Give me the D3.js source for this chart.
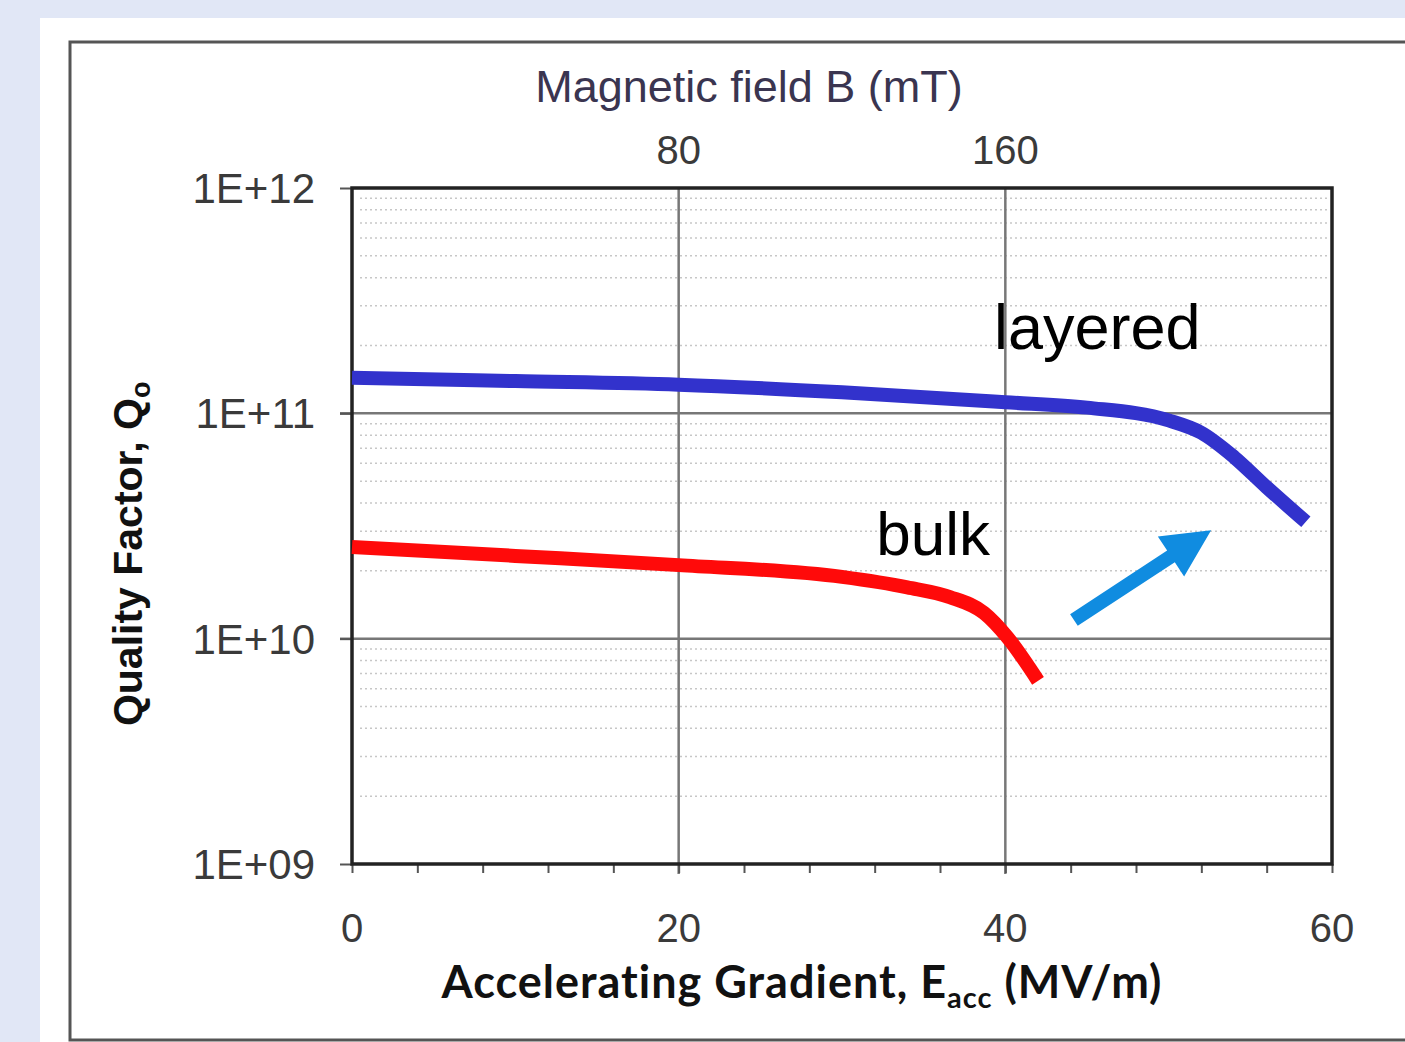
<!DOCTYPE html>
<html>
<head>
<meta charset="utf-8">
<script src="https://cdn.jsdelivr.net/npm/d3@7"></script>
<style>
  html, body { margin: 0; padding: 0; background: #e1e7f6; }
  svg { display: block; }
</style>
</head>
<body>
<div id="chart"></div>
<script>
'use strict'

// ---- data ----
const bulkE = [0, 10, 20, 30, 34, 36.6, 38.7, 40.1, 42]
const bulkQ = [2.55e10, 2.33e10, 2.12e10, 1.88e10, 1.69e10, 1.53e10, 1.30e10, 1.02e10, 6.5e9]

const layeredE = [0, 10, 20, 30, 40, 45, 50, 52, 54, 56, 58.4]
const layeredQ = [1.44e11, 1.39e11, 1.34e11, 1.24e11, 1.12e11, 1.06e11, 9.3e10, 8.2e10, 6.4e10, 4.7e10, 3.3e10]

const xTicks = [0, 20, 40, 60]
const yTicks = [1e9, 1e10, 1e11, 1e12]
const yTickLabels = ['1E+09', '1E+10', '1E+11', '1E+12']
const topTicks = [80, 160]          // magnetic field, mT (B = 4 * Eacc)

// arrow annotation, in data units [E, Q]
const arrowFrom = [44.2, 1.21e10]
const arrowTo = [52.6, 3.03e10]

////////////////////////////////////
//////////// svg setup /////////////
////////////////////////////////////
const svgWidth = 1405
const svgHeight = 1042
const margin = { left: 352, top: 188, right: 73, bottom: 178 }
const width = svgWidth - margin.left - margin.right
const height = svgHeight - margin.top - margin.bottom

const root = d3.select('#chart').append('svg')
    .attr('width', svgWidth)
    .attr('height', svgHeight)

// white panel + outer frame
root.append('rect')
    .attr('x', 40).attr('y', 18)
    .attr('width', svgWidth).attr('height', svgHeight)
    .attr('fill', '#fff')

root.append('rect')
    .attr('x', 70).attr('y', 42)
    .attr('width', svgWidth).attr('height', 998)
    .attr('fill', 'none')
    .attr('stroke', '#555')
    .attr('stroke-width', 3)

const svg = root.append('g')
    .attr('transform', `translate(${margin.left},${margin.top})`)

////////////////////////////////////
//////////// Scales ////////////////
////////////////////////////////////
const x = d3.scaleLinear().domain([0, 60]).range([0, width])
const y = d3.scaleLog().domain([1e9, 1e12]).range([height, 0])
const xTop = d3.scaleLinear().domain([0, 240]).range([0, width])

////////////////////////////////////
//////////// Grid //////////////////
////////////////////////////////////
// minor dotted grid 2..9 per decade
const minor = []
for (let p = 9; p < 12; p++) {
    for (let m = 2; m <= 9; m++) minor.push(m * Math.pow(10, p))
}
svg.append('g')
    .selectAll('line')
    .data(minor)
    .join('line')
    .attr('x1', 8).attr('x2', width - 4)
    .attr('y1', d => y(d)).attr('y2', d => y(d))
    .attr('stroke', '#999')
    .attr('stroke-width', 1.5)
    .attr('stroke-dasharray', '2,3')
    .attr('stroke-opacity', 0.55)

// major grid
svg.append('g')
    .selectAll('line')
    .data([1e10, 1e11])
    .join('line')
    .attr('x1', -12).attr('x2', width)
    .attr('y1', d => y(d)).attr('y2', d => y(d))
    .attr('stroke', '#777')
    .attr('stroke-width', 2.5)

svg.append('g')
    .selectAll('line')
    .data([20, 40])
    .join('line')
    .attr('x1', d => x(d)).attr('x2', d => x(d))
    .attr('y1', 0).attr('y2', height + 10)
    .attr('stroke', '#777')
    .attr('stroke-width', 2.5)

////////////////////////////////////
//////////// Axes //////////////////
////////////////////////////////////
const xAxis = d3.axisBottom(x)
    .tickValues(d3.range(0, 61, 4))
    .tickSize(9)
    .tickFormat('')
svg.append('g')
    .attr('transform', `translate(0,${height})`)
    .call(xAxis)
    .call(g => g.selectAll('line').attr('stroke', '#555').attr('stroke-width', 2))

svg.append('g')
    .selectAll('text')
    .data(xTicks)
    .join('text')
    .attr('x', d => x(d))
    .attr('y', height + 78)
    .attr('text-anchor', 'middle')
    .attr('font-family', 'Liberation Sans, Arial, sans-serif')
    .attr('font-size', 40)
    .attr('fill', '#3a3a3a')
    .text(d => d)

const yAxis = d3.axisLeft(y)
    .tickValues(yTicks)
    .tickSize(12)
    .tickFormat('')
svg.append('g')
    .call(yAxis)
    .call(g => g.selectAll('line').attr('stroke', '#555').attr('stroke-width', 2))

svg.append('g')
    .selectAll('text')
    .data(yTicks)
    .join('text')
    .attr('x', -37)
    .attr('y', d => y(d))
    .attr('dy', '0.36em')
    .attr('text-anchor', 'end')
    .attr('font-family', 'Liberation Sans, Arial, sans-serif')
    .attr('font-size', 42)
    .attr('fill', '#3a3a3a')
    .text((d, i) => yTickLabels[i])

svg.selectAll('.domain').remove()

// top axis labels (magnetic field)
svg.append('g')
    .selectAll('text')
    .data(topTicks)
    .join('text')
    .attr('x', d => xTop(d))
    .attr('y', -24)
    .attr('text-anchor', 'middle')
    .attr('font-family', 'Liberation Sans, Arial, sans-serif')
    .attr('font-size', 40)
    .attr('fill', '#3a3a3a')
    .text(d => d)

svg.append('text')
    .attr('x', 397)
    .attr('y', -86)
    .attr('text-anchor', 'middle')
    .attr('font-family', 'Liberation Sans, Arial, sans-serif')
    .attr('font-size', 45)
    .attr('fill', '#3a3550')
    .text('Magnetic field B (mT)')

// plot frame
svg.append('rect')
    .attr('width', width).attr('height', height)
    .attr('fill', 'none')
    .attr('stroke', '#222')
    .attr('stroke-width', 3.5)

////////////////////////////////////
//////////// Titles ////////////////
////////////////////////////////////
const xt = svg.append('text')
    .attr('x', 450)
    .attr('y', height + 134)
    .attr('text-anchor', 'middle')
    .attr('font-family', 'Lato, sans-serif')
    .attr('font-weight', 'bold')
    .attr('font-size', 45)
    .attr('letter-spacing', 1)
    .style('font-variant-ligatures', 'none')
    .attr('fill', '#111')
xt.append('tspan').text('Accelerating Gradient, E')
xt.append('tspan').text('acc').attr('font-size', 29).attr('dy', 10)
xt.append('tspan').text(' (MV/m)').attr('dy', -10)

const yt = svg.append('text')
    .attr('transform', `translate(-210,${y(2.38e10)}) rotate(-90)`)
    .attr('text-anchor', 'middle')
    .attr('font-family', 'Liberation Sans, Arial, sans-serif')
    .attr('font-weight', 'bold')
    .attr('font-size', 41)
    .attr('fill', '#111')
yt.append('tspan').text('Quality Factor, Q')
yt.append('tspan').text('o').attr('font-size', 27).attr('dy', 8)

////////////////////////////////////
//////////// Lines /////////////////
////////////////////////////////////
const line = d3.line()
    .x(d => x(d[0]))
    .y(d => y(d[1]))
    .curve(d3.curveMonotoneX)

svg.append('path')
    .datum(layeredE.map((e, i) => [e, layeredQ[i]]))
    .attr('d', line)
    .attr('fill', 'none')
    .attr('stroke', '#3232cc')
    .attr('stroke-width', 14)

svg.append('path')
    .datum(bulkE.map((e, i) => [e, bulkQ[i]]))
    .attr('d', line)
    .attr('fill', 'none')
    .attr('stroke', '#ff0a0a')
    .attr('stroke-width', 14)

// labels
svg.append('text')
    .attr('x', x(39.3))
    .attr('y', y(1.92e11))
    .attr('font-family', 'Liberation Sans, Arial, sans-serif')
    .attr('font-size', 63)
    .attr('fill', '#000')
    .text('layered')

svg.append('text')
    .attr('x', x(32.1))
    .attr('y', y(2.35e10))
    .attr('font-family', 'Liberation Sans, Arial, sans-serif')
    .attr('font-size', 62)
    .attr('fill', '#000')
    .text('bulk')

// arrow
const ax0 = x(arrowFrom[0]), ay0 = y(arrowFrom[1])
const ax1 = x(arrowTo[0]), ay1 = y(arrowTo[1])
const ang = Math.atan2(ay1 - ay0, ax1 - ax0)
const len = Math.hypot(ax1 - ax0, ay1 - ay0)
const headLen = 48, headW = 48, shaftW = 14

const arrowG = svg.append('g')
    .attr('transform', `translate(${ax0},${ay0}) rotate(${ang * 180 / Math.PI})`)
arrowG.append('path')
    .attr('d', d3.line()([
        [0, -shaftW / 2], [len - headLen, -shaftW / 2], [len - headLen, -headW / 2],
        [len, 0],
        [len - headLen, headW / 2], [len - headLen, shaftW / 2], [0, shaftW / 2]
    ]) + 'Z')
    .attr('fill', '#108ce0')
</script>
</body>
</html>
